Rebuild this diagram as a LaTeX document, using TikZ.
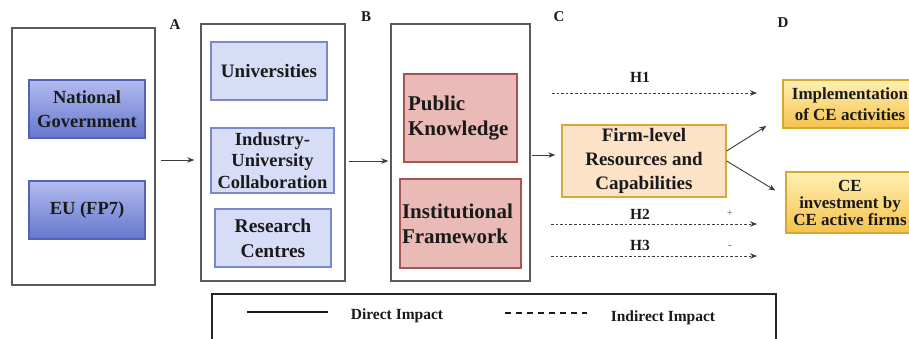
\documentclass[tikz,border=0pt]{standalone}
\usepackage{fontspec}
\setmainfont{Liberation Serif}
\usetikzlibrary{arrows.meta,calc}
\definecolor{txt}{HTML}{1A1A1A}
\definecolor{outer}{HTML}{5A5A5A}
\definecolor{blueTop}{HTML}{B2BCF0}
\definecolor{blueBot}{HTML}{6676CC}
\definecolor{blueBorder}{HTML}{5262B4}
\definecolor{lav}{HTML}{D7DDF7}
\definecolor{lavBorder}{HTML}{7A88D0}
\definecolor{pink}{HTML}{E9BAB6}
\definecolor{pinkBorder}{HTML}{A85452}
\definecolor{peach}{HTML}{FCE2C6}
\definecolor{peachBorder}{HTML}{DDA53A}
\definecolor{goldTop}{HTML}{FFF0B4}
\definecolor{goldBot}{HTML}{F5C24C}
\definecolor{goldBorder}{HTML}{D9A62E}
\tikzset{
  fs/.style n args={2}{font=\bfseries\fontsize{#1}{#2}\selectfont},
  outerbox/.style={draw=outer, line width=1.4pt, fill=white, rectangle},
  govbox/.style={draw=blueBorder, line width=1.3pt, top color=blueTop, bottom color=blueBot, text=txt, align=center, inner sep=0pt, fs={18.5}{24}},
  lavbox/.style={draw=lavBorder, line width=1.3pt, fill=lav, text=txt, align=center, inner sep=0pt, fs={19}{22}},
  pinkbox/.style={draw=pinkBorder, line width=1.3pt, fill=pink, text=txt, align=left, inner sep=0pt, fs={21}{25}},
  firmbox/.style={draw=peachBorder, line width=1.3pt, fill=peach, text=txt, align=center, inner sep=0pt, fs={19}{24}},
  goldbox/.style={draw=goldBorder, line width=1.3pt, top color=goldTop, bottom color=goldBot, text=txt, align=center, inner sep=0pt, fs={17}{17}},
  lbl/.style={text=txt, fs={15}{17}},
  hlbl/.style={text=txt, fs={15.5}{17}},
  sign/.style={text=txt!70, font=\fontsize{11}{12}\selectfont},
  conn/.style={line width=0.9pt, draw=txt!85, -{Stealth[length=7pt,width=5.5pt]}},
  dconn/.style={conn, dash pattern=on 2.6pt off 2pt},
}
\begin{document}
\begin{tikzpicture}[x=1pt,y=-1pt]
\clip (0,0) rectangle (909,338);
\fill[white] (0,0) rectangle (909,338);
% outer boxes
\node[outerbox, minimum width=143, minimum height=257] (boxA) at (83.5,156.5) {};
\node[outerbox, minimum width=144, minimum height=257] (boxB) at (273,152.5) {};
\node[outerbox, minimum width=139, minimum height=257] (boxC) at (460.5,152.5) {};
% labels
\node[lbl] (labA) at (175,25) {A};
\node[lbl] (labB) at (366,17) {B};
\node[lbl] (labC) at (559,17) {C};
\node[lbl] (labD) at (783,23) {D};
% A contents
\node[govbox, minimum width=116, minimum height=58] (ng) at (87,109) {National\\Government};
\node[govbox, minimum width=116, minimum height=58] (eu) at (87,210) {EU (FP7)};
% B contents
\node[lavbox, minimum width=116, minimum height=58] (univ) at (269,71) {Universities};
\node[lavbox, minimum width=123, minimum height=65, fs={18.5}{21.5}] (iuc) at (272.5,160.5) {Industry-\\University\\Collaboration};
\node[lavbox, minimum width=116, minimum height=58, fs={19.5}{25}] (rc) at (273,238) {Research\\Centres};
% C contents
\node[pinkbox, minimum width=113, minimum height=88, text width=105] (pk) at (460.5,118) {Public\\Knowledge};
\node[pinkbox, minimum width=121, minimum height=89, text width=117] (inf) at (460.5,223.5) {Institutional\\Framework};
% firm
\node[firmbox, minimum width=164, minimum height=72] (firm) at (644,161) {Firm-level\\Resources and\\Capabilities};
% D contents
\node[goldbox, minimum width=134, minimum height=48, fs={17}{21}] (impl) at (850,104) {Implementation\\of CE activities};
\node[goldbox, minimum width=128, minimum height=61] (ceinv) at (850,202.5) {CE\\investment by\\CE active firms};
% direct connectors
\draw[conn] ($(boxA.east)+(5,3.5)$) -- ($(boxB.west)+(-6,7.5)$);
\draw[conn] ($(boxB.east)+(3,8.5)$) -- ($(boxC.west)+(-2,8.5)$);
\draw[conn] ($(boxC.east)+(1,2.5)$) -- ($(firm.west)+(-6,-6)$);
\draw[conn] ($(firm.east)+(0,-10)$) -- ($(impl.west)+(-16,22)$);
\draw[conn] ($(firm.east)+(0,0)$) -- ($(ceinv.west)+(-10,-12)$);
% hypotheses
\coordinate (h1s) at (552,93);  \coordinate (h1e) at (757,93);
\coordinate (h2s) at (551,224); \coordinate (h2e) at (757,224);
\coordinate (h3s) at (551,256); \coordinate (h3e) at (757,256);
\draw[dconn] (h1s) -- (h1e);
\draw[dconn] (h2s) -- (h2e);
\draw[dconn] (h3s) -- (h3e);
\node[hlbl] (h1) at (640,77) {H1};
\node[hlbl] (h2) at (640,214) {H2};
\node[hlbl] (h3) at (640,245) {H3};
\node[sign] (plus) at (730,213) {+};
\node[sign] (minus) at (730,247) {-};
% legend
\node[draw=black!85, line width=1.6pt, rectangle, minimum width=564, minimum height=70] (legend) at (494,329) {};
\coordinate (ls1) at (247,312); \coordinate (ls2) at (328,312);
\coordinate (ld1) at (505,313); \coordinate (ld2) at (587,313);
\draw[line width=1.6pt, txt] (ls1) -- (ls2);
\draw[line width=1.3pt, txt, dash pattern=on 6pt off 5pt] (ld1) -- (ld2);
\node[text=txt, fs={15.5}{17}] (dtext) at (397,316) {Direct Impact};
\node[text=txt, fs={15.5}{17}] (itext) at (663,318) {Indirect Impact};
\end{tikzpicture}
\end{document}
